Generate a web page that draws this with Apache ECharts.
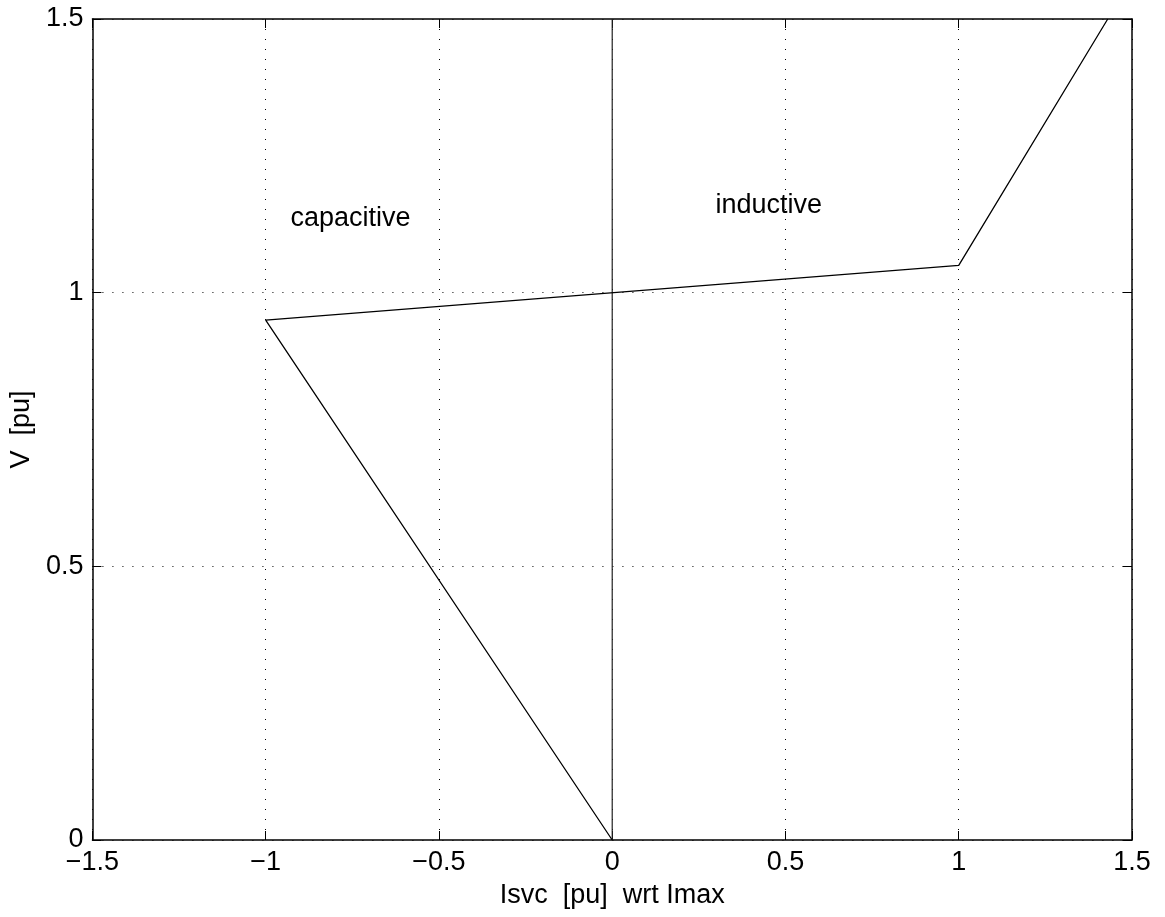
<!DOCTYPE html>
<html>
<head>
<meta charset="utf-8">
<script src="https://cdn.jsdelivr.net/npm/echarts@6/dist/echarts.min.js"></script>
<style>
  html, body { margin: 0; padding: 0; background: #fff; }
  #chart { width: 1165px; height: 917px; }
</style>
</head>
<body>
<div id="chart"></div>
<script>
// SVC V-I characteristic: voltage versus current (pu of Imax)
const characteristicI = [0, -1, 1, 1.43];
const characteristicV = [0, 0.95, 1.05, 1.5];
const zeroAxisI = [0, 0];
const zeroAxisV = [0, 1.5];
const regionNames = ['capacitive', 'inductive'];
const regionI = [-0.755, 0.452];
const regionV = [1.135, 1.16];
const xTicks = { min: -1.5, max: 1.5, interval: 0.5 };
const yTicks = { min: 0, max: 1.5, interval: 0.5 };

const pairs = (xs, ys) => xs.map((x, i) => [x, ys[i]]);
const fmt = v => (v < 0 ? '\u2212' + String(-v) : String(v));
const font = 'Liberation Sans, Arial, Helvetica, sans-serif';
const fs = 27;

const tickStyle = { show: true, inside: true, length: 9, lineStyle: { color: '#000', width: 1 } };
const lineStyle = { show: true, lineStyle: { color: '#000', width: 1.5 } };
const gridStyle = { show: true, lineStyle: { color: '#000', width: 1, type: [1, 9] } };

const chart = echarts.init(document.getElementById('chart'));
chart.setOption({
  animation: false,
  backgroundColor: '#fff',
  grid: { left: 91.5, right: 33, top: 19, bottom: 77 },
  xAxis: [
    {
      type: 'value', position: 'bottom', ...xTicks,
      axisLine: { ...lineStyle, onZero: false },
      axisTick: tickStyle,
      splitLine: gridStyle,
      axisLabel: { formatter: fmt, fontSize: fs, color: '#000', fontFamily: font, margin: 9 },
      name: 'Isvc  [pu]  wrt Imax', nameLocation: 'middle', nameGap: 42,
      nameTextStyle: { fontSize: fs, color: '#000', fontFamily: font }
    },
    {
      type: 'value', position: 'top', ...xTicks,
      axisLine: { ...lineStyle, onZero: false },
      axisTick: tickStyle,
      splitLine: { show: false },
      axisLabel: { show: false }
    }
  ],
  yAxis: [
    {
      type: 'value', position: 'left', ...yTicks,
      axisLine: { ...lineStyle, onZero: false },
      axisTick: tickStyle,
      splitLine: gridStyle,
      axisLabel: { formatter: fmt, fontSize: fs, color: '#000', fontFamily: font, margin: 9 },
      name: 'V  [pu]', nameLocation: 'middle', nameGap: 46, nameRotate: 90,
      nameTextStyle: { fontSize: fs, color: '#000', fontFamily: font }
    },
    {
      type: 'value', position: 'right', ...yTicks,
      axisLine: { ...lineStyle, onZero: false },
      axisTick: tickStyle,
      splitLine: { show: false },
      axisLabel: { show: false }
    }
  ],
  series: [
    {
      type: 'line', data: pairs(zeroAxisI, zeroAxisV), showSymbol: false,
      lineStyle: { color: '#222', width: 1.2 }, silent: true
    },
    {
      type: 'line', data: pairs(characteristicI, characteristicV), showSymbol: false,
      lineStyle: { color: '#000', width: 1.3 }, silent: true
    },
    {
      type: 'scatter', symbolSize: 0, silent: true,
      itemStyle: { opacity: 1, color: '#000' },
      data: regionNames.map((n, i) => ({ value: [regionI[i], regionV[i]], name: n })),
      label: {
        show: true, position: 'inside', formatter: p => p.name,
        fontSize: fs, color: '#000', fontFamily: font, textBorderWidth: 0
      }
    }
  ]
});
</script>
</body>
</html>
